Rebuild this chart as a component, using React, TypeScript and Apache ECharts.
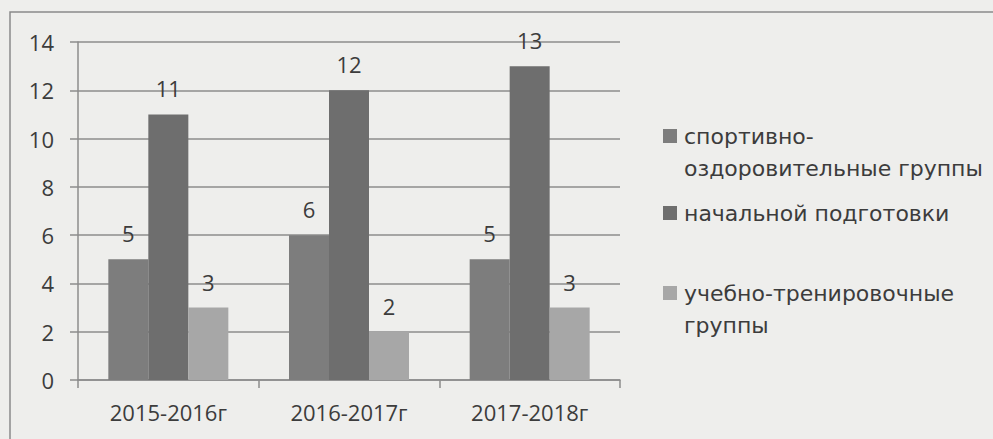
import React, { useEffect, useRef } from "react";
import * as echarts from "echarts";

const categories = ["2015-2016г", "2016-2017г", "2017-2018г"];
const seriesNames = [
  "спортивно-оздоровительные группы",
  "начальной подготовки",
  "учебно-тренировочные группы",
];
const legendLabels = [
  "спортивно-\nоздоровительные группы",
  "начальной подготовки",
  "учебно-тренировочные\nгруппы",
];
const sportHealth = [5, 6, 5];
const initialTraining = [11, 12, 13];
const trainingGroups = [3, 2, 3];
const seriesValues = [sportHealth, initialTraining, trainingGroups];
const barColors = ["#7d7d7d", "#6e6e6e", "#a7a7a7"];
const yTicks = { min: 0, max: 14, interval: 2 };

const TEXT = "#3c3c3c";
const LINE = "#8c8c8c";
const AXIS_FONT = "Open Sans";
const LEGEND_FONT = "DejaVu Sans";

const ICON_TWO_LINE = "path://M0,0H14V14H0Z M16,46L16,46";
const ICON_ONE_LINE = "path://M0,0H14V14H0Z M16,14L16,14";

export default function App() {
  const ref = useRef<HTMLDivElement>(null);
  useEffect(() => {
    if (!ref.current) return;
    const chart = echarts.init(ref.current, undefined, { renderer: "svg" });
    const legendTops = [120, 197, 277];
    chart.setOption({
      animation: false,
      backgroundColor: "#eeeeec",
      graphic: [
        {
          type: "rect",
          shape: { x: 10, y: 12, width: 1100, height: 600 },
          style: { fill: "none", stroke: "#8a8a8a", lineWidth: 1.5 },
          silent: true,
        },
      ],
      grid: { left: 78, right: 373, top: 42, bottom: 59 },
      legend: seriesNames.map((n, i) => {
        const twoLine = legendLabels[i].includes("\n");
        return {
          data: [n],
          orient: "vertical",
          left: 663,
          top: legendTops[i],
          padding: 0,
          icon: twoLine ? ICON_TWO_LINE : ICON_ONE_LINE,
          itemWidth: 16,
          itemHeight: twoLine ? 46 : 14,
          itemGap: 0,
          selectedMode: false,
          formatter: () => legendLabels[i],
          textStyle: {
            color: TEXT,
            fontFamily: LEGEND_FONT,
            fontSize: 22,
            lineHeight: 32,
          },
        };
      }),
      xAxis: {
        type: "category",
        data: categories,
        axisLine: { show: true, lineStyle: { color: LINE, width: 1.5 } },
        axisTick: { show: true, length: 8, lineStyle: { color: LINE, width: 1.5 } },
        axisLabel: { color: TEXT, fontFamily: AXIS_FONT, fontSize: 22, margin: 21 },
      },
      yAxis: {
        type: "value",
        min: yTicks.min,
        max: yTicks.max,
        interval: yTicks.interval,
        axisLine: { show: true, lineStyle: { color: LINE, width: 1.5 } },
        axisTick: { show: true, length: 8, lineStyle: { color: LINE, width: 1.5 } },
        axisLabel: { color: TEXT, fontFamily: AXIS_FONT, fontSize: 22, margin: 24 },
        splitLine: { show: true, lineStyle: { color: LINE, width: 1.5 } },
      },
      series: seriesNames.map((n, i) => ({
        name: n,
        type: "bar",
        data: seriesValues[i],
        barWidth: 40,
        barGap: "0%",
        itemStyle: { color: barColors[i] },
        label: {
          show: true,
          position: "top",
          distance: 15,
          color: TEXT,
          fontFamily: AXIS_FONT,
          fontSize: 22,
        },
      })),
    });
    return () => chart.dispose();
  }, []);
  return (
    <div
      ref={ref}
      style={{ position: "fixed", left: 0, top: 0, width: 993, height: 439 }}
    />
  );
}
